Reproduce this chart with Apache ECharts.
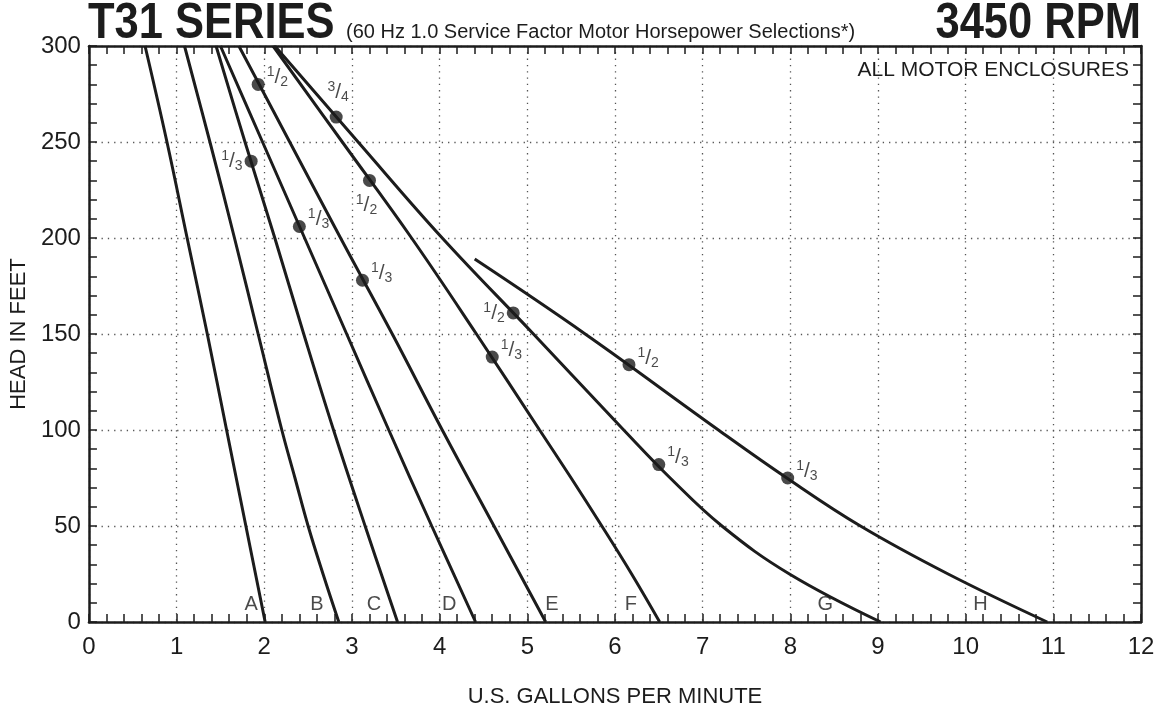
<!DOCTYPE html>
<html>
<head>
<meta charset="utf-8">
<title>T31 Series 3450 RPM</title>
<script src="https://cdn.jsdelivr.net/npm/echarts@6/dist/echarts.min.js"></script>
<style>
  html, body { margin: 0; padding: 0; background: #fff; }
  #chart { width: 1162px; height: 715px; }
</style>
</head>
<body>
<div id="chart"></div>
<script>
// pump curves: [gpm, head ft]
const curveA = [[0.64, 300], [0.89, 250], [1.12, 200], [1.35, 150], [1.57, 100], [1.79, 50], [2.01, 0]];
const curveB = [[1.09, 300], [1.38, 250], [1.66, 200], [1.93, 150], [2.20, 100], [2.35, 75], [2.50, 50], [2.67, 25], [2.85, 0]];
const curveC = [[1.45, 300], [1.78, 250], [2.12, 200], [2.45, 150], [2.79, 100], [3.15, 50], [3.52, 0]];
const curveD = [[1.50, 300], [1.98, 250], [2.46, 200], [2.94, 150], [3.42, 100], [3.91, 50], [4.41, 0]];
const curveE = [[1.71, 300], [2.29, 250], [2.87, 200], [3.46, 150], [4.03, 100], [4.62, 50], [5.21, 0]];
const curveF = [[2.10, 300], [2.89, 250], [3.68, 200], [4.42, 150], [5.14, 100], [5.50, 75], [5.85, 50], [6.19, 25], [6.51, 0]];
const curveG = [[2.12, 300], [3.07, 250], [4.03, 200], [5.07, 150], [6.10, 100], [6.63, 75], [7.22, 50], [7.99, 25], [9.03, 0]];
const curveH = [[4.40, 189], [5.66, 150], [7.18, 100], [7.96, 75], [8.80, 50], [9.80, 25], [10.93, 0]];
const curveNames = ['A', 'B', 'C', 'D', 'E', 'F', 'G', 'H'];

// curve letters near the bottom
const letterGpm = [1.85, 2.60, 3.25, 4.11, 5.28, 6.18, 8.40, 10.17];
const letterHead = [9, 9, 9, 9, 9, 9, 9, 9];

// motor horsepower selection points
const dotGpm = [1.93, 2.82, 1.85, 3.20, 2.40, 3.12, 4.84, 4.60, 6.16, 6.50, 7.97];
const dotHead = [280, 263, 240, 230, 206, 178, 161, 138, 134, 82, 75];
const dotHp = ['1/2', '3/4', '1/3', '1/2', '1/3', '1/3', '1/2', '1/3', '1/2', '1/3', '1/3'];

// where each hp label sits relative to its dot
const dotLabelPlace = ['right', 'top', 'left', 'bottom', 'right', 'right', 'left', 'right', 'right', 'right', 'right'];

const FONT = '"Liberation Sans", Arial, Helvetica, sans-serif';
const INK = '#1c1c1c';

var chart = echarts.init(document.getElementById('chart'), null, { renderer: 'canvas' });

var curves = [curveA, curveB, curveC, curveD, curveE, curveF, curveG, curveH];
var series = curves.map(function (c, i) {
  return {
    name: curveNames[i],
    type: 'line',
    data: c,
    symbol: 'none',
    smooth: 0.4,
    lineStyle: { color: INK, width: 3 },
    silent: true,
    z: 3
  };
});

series.push({
  type: 'scatter',
  data: dotGpm.map(function (g, i) {
    var p = dotLabelPlace[i];
    var off = p === 'right' ? [-2, -7] : p === 'bottom' ? [-3, 0] : [2, 0];
    return {
      value: [g, dotHead[i], dotHp[i]],
      label: { position: p, offset: off, distance: p === 'top' || p === 'bottom' ? 6 : 4 }
    };
  }),
  symbol: 'circle',
  symbolSize: 13,
  itemStyle: { color: INK },
  label: {
    show: true,
    formatter: function (p) {
      var f = p.value[2].split('/');
      return '{n|' + f[0] + '}{s|/}{d|' + f[1] + '}';
    },
    rich: {
      n: { fontSize: 14, fontFamily: FONT, color: INK, verticalAlign: 'top', lineHeight: 24 },
      s: { fontSize: 21, fontFamily: FONT, color: INK, lineHeight: 24 },
      d: { fontSize: 14, fontFamily: FONT, color: INK, verticalAlign: 'bottom', lineHeight: 24 }
    }
  },
  z: 5
});

series.push({
  type: 'scatter',
  data: letterGpm.map(function (g, i) { return [g, letterHead[i], curveNames[i]]; }),
  symbolSize: 0,
  label: {
    show: true,
    position: 'inside',
    formatter: function (p) { return p.value[2]; },
    fontSize: 20,
    fontFamily: FONT,
    color: INK
  },
  z: 4
});

function frameAxis(extra) {
  return Object.assign({
    type: 'value',
    axisLine: { show: true, onZero: false, lineStyle: { color: INK, width: 2.5 } },
    axisTick: { show: true, inside: true, length: 8, lineStyle: { color: INK, width: 1.5 } },
    minorTick: { show: true, splitNumber: 5, length: 8, lineStyle: { color: INK, width: 1.5 } },
    splitLine: { show: false },
    axisLabel: { show: false }
  }, extra);
}

var gridDots = { show: true, lineStyle: { color: '#555', width: 1.3, type: [1.3, 5] } };

chart.setOption({
  backgroundColor: '#fff',
  animation: false,
  textStyle: { fontFamily: FONT },
  grid: { left: 88, right: 21, top: 46, bottom: 93 },
  xAxis: [
    frameAxis({
      position: 'bottom', min: 0, max: 12, interval: 1,
      splitLine: gridDots,
      axisLabel: { show: true, fontSize: 24, color: INK, margin: 13, fontFamily: FONT },
      name: 'U.S. GALLONS PER MINUTE', nameLocation: 'middle', nameGap: 64,
      nameTextStyle: { fontSize: 22, color: INK, fontFamily: FONT }
    }),
    frameAxis({ position: 'top', min: 0, max: 12, interval: 1 })
  ],
  yAxis: [
    frameAxis({
      position: 'left', min: 0, max: 300, interval: 50,
      splitLine: gridDots,
      axisLabel: { show: true, fontSize: 24, color: INK, margin: 8, fontFamily: FONT },
      name: 'HEAD IN FEET', nameLocation: 'middle', nameGap: 52,
      nameTextStyle: { fontSize: 22, color: INK, fontFamily: FONT }
    }),
    frameAxis({ position: 'right', min: 0, max: 300, interval: 50 })
  ],
  graphic: [
    {
      type: 'text', x: 88, y: 24, scaleX: 0.87,
      style: { text: 'T31 SERIES', fill: INK, font: 'bold 50px ' + FONT, textVerticalAlign: 'middle' }
    },
    {
      type: 'text', x: 346, y: 32,
      style: { text: '(60 Hz 1.0 Service Factor Motor Horsepower Selections*)', fill: INK, font: '20px ' + FONT, textVerticalAlign: 'middle' }
    },
    {
      type: 'text', x: 1141, y: 24, scaleX: 0.87,
      style: { text: '3450 RPM', fill: INK, font: 'bold 50px ' + FONT, textAlign: 'right', textVerticalAlign: 'middle' }
    },
    {
      type: 'text', x: 1129, y: 70,
      style: { text: 'ALL MOTOR ENCLOSURES', fill: INK, font: '21px ' + FONT, textAlign: 'right', textVerticalAlign: 'middle' }
    }
  ],
  series: series
});
</script>
</body>
</html>
